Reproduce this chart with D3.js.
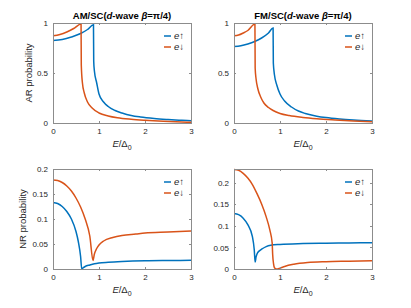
<!DOCTYPE html>
<html>
<head>
<meta charset="utf-8">
<script src="https://cdn.jsdelivr.net/npm/d3@7"></script>
<style>
  body { margin: 0; background: #fff; }
  svg { display: block; font-family: "Liberation Sans", Arial, sans-serif; }
</style>
</head>
<body>
<div id="stage"></div>
<script>

// values, E/Delta0 vs probability
var am_ar_up_E = [0, 0.2, 0.4, 0.6, 0.75, 0.88, 0.885, 0.9, 0.95, 1.0, 1.1, 1.2, 1.35, 1.5, 1.7, 1.9, 2.2, 2.5, 2.8, 3.0];
var am_ar_up   = [0.825, 0.835, 0.86, 0.895, 0.935, 0.983, 0.62, 0.52, 0.40, 0.29, 0.21, 0.165, 0.125, 0.10, 0.075, 0.06, 0.045, 0.035, 0.027, 0.022];
var am_ar_dn_E = [0, 0.15, 0.3, 0.45, 0.61, 0.615, 0.64, 0.68, 0.75, 0.85, 1.0, 1.2, 1.4, 1.7, 2.0, 2.4, 2.8, 3.0];
var am_ar_dn   = [0.872, 0.885, 0.91, 0.945, 0.99, 0.58, 0.40, 0.30, 0.21, 0.15, 0.10, 0.07, 0.052, 0.037, 0.027, 0.017, 0.01, 0.007];

var fm_ar_up_E = [0, 0.15, 0.3, 0.45, 0.6, 0.75, 0.85, 0.855, 0.88, 0.93, 1.0, 1.1, 1.25, 1.4, 1.55, 1.8, 2.0, 2.3, 2.6, 3.0];
var fm_ar_up   = [0.765, 0.772, 0.79, 0.815, 0.85, 0.9, 0.95, 0.6, 0.48, 0.38, 0.29, 0.22, 0.16, 0.12, 0.095, 0.068, 0.054, 0.04, 0.03, 0.02];
var fm_ar_dn_E = [0, 0.1, 0.2, 0.3, 0.455, 0.46, 0.48, 0.52, 0.58, 0.65, 0.75, 0.85, 1.0, 1.2, 1.5, 1.8, 2.2, 2.6, 3.0];
var fm_ar_dn   = [0.872, 0.88, 0.9, 0.925, 0.99, 0.55, 0.44, 0.34, 0.26, 0.2, 0.155, 0.125, 0.095, 0.074, 0.055, 0.042, 0.03, 0.02, 0.013];

var am_nr_up_E = [0, 0.1, 0.2, 0.3, 0.4, 0.5, 0.55, 0.6, 0.625, 0.65, 0.7, 0.8, 0.9, 1.0, 1.2, 1.5, 2.0, 2.5, 3.0];
var am_nr_up   = [0.133, 0.131, 0.125, 0.115, 0.1, 0.075, 0.055, 0.025, 0.0, 0.002, 0.005, 0.008, 0.0105, 0.012, 0.0135, 0.015, 0.0165, 0.017, 0.0173];
var am_nr_dn_E = [0, 0.1, 0.2, 0.3, 0.4, 0.5, 0.6, 0.7, 0.8, 0.87, 0.9, 0.95, 1.0, 1.1, 1.3, 1.5, 1.8, 2.0, 2.5, 3.0];
var am_nr_dn   = [0.178, 0.177, 0.173, 0.166, 0.156, 0.142, 0.124, 0.1, 0.066, 0.017, 0.03, 0.041, 0.048, 0.056, 0.063, 0.067, 0.07, 0.072, 0.074, 0.076];

var fm_nr_up_E = [0, 0.1, 0.2, 0.3, 0.4, 0.44, 0.46, 0.48, 0.5, 0.55, 0.6, 0.7, 0.8, 1.0, 1.5, 2.0, 2.5, 3.0];
var fm_nr_up   = [0.129, 0.126, 0.118, 0.103, 0.075, 0.045, 0.016, 0.028, 0.035, 0.042, 0.046, 0.052, 0.055, 0.057, 0.059, 0.06, 0.0605, 0.061];
var fm_nr_dn_E = [0, 0.1, 0.2, 0.3, 0.4, 0.5, 0.6, 0.7, 0.78, 0.83, 0.84, 0.86, 0.88, 0.92, 1.0, 1.1, 1.3, 1.6, 2.0, 2.5, 3.0];
var fm_nr_dn   = [0.231, 0.229, 0.222, 0.211, 0.196, 0.175, 0.151, 0.121, 0.09, 0.06, 0.035, 0.012, 0.003, 0.0, 0.002, 0.006, 0.011, 0.015, 0.017, 0.018, 0.019];

var xTicks = [0, 1, 2, 3];
var arTicks = [0, 0.5, 1];
var nrTicks = [0, 0.05, 0.1, 0.15, 0.2];

var blue = "#0072BD", orange = "#D95319";

var W = 411, H = 308;
var svg = d3.select("#stage").append("svg").attr("width", W).attr("height", H);
var fmt = d3.format("~g");

function zip(xs, ys){ return xs.map(function(x, i){ return [x, ys[i]]; }); }

var panels = [
  {x0: 53, x1: 191, y0: 23, y1: 123, ymax: 1, ticks: arTicks, title: "AM/SC", ylab: "AR probability", labx: 32,
   up: zip(am_ar_up_E, am_ar_up), dn: zip(am_ar_dn_E, am_ar_dn)},
  {x0: 234, x1: 372, y0: 23, y1: 123, ymax: 1, ticks: arTicks, title: "FM/SC", ylab: null,
   up: zip(fm_ar_up_E, fm_ar_up), dn: zip(fm_ar_dn_E, fm_ar_dn)},
  {x0: 53, x1: 191, y0: 169, y1: 269, ymax: 0.2, ticks: nrTicks, title: null, ylab: "NR probability", labx: 26,
   up: zip(am_nr_up_E, am_nr_up), dn: zip(am_nr_dn_E, am_nr_dn)},
  {x0: 234, x1: 372, y0: 169, y1: 269, ymax: 0.232, ticks: nrTicks, title: null, ylab: null,
   up: zip(fm_nr_up_E, fm_nr_up), dn: zip(fm_nr_dn_E, fm_nr_dn)}
];

panels.forEach(function(p){
  var x = d3.scaleLinear().domain([0, 3]).range([p.x0, p.x1]);
  var y = d3.scaleLinear().domain([0, p.ymax]).range([p.y1, p.y0]);
  var g = svg.append("g");

  var line = d3.line().x(function(d){ return x(d[0]); }).y(function(d){ return y(d[1]); }).curve(d3.curveMonotoneX);

  g.append("path").datum(p.up).attr("d", line).attr("fill", "none").attr("stroke", blue).attr("stroke-width", 1.5);
  g.append("path").datum(p.dn).attr("d", line).attr("fill", "none").attr("stroke", orange).attr("stroke-width", 1.5);

  // axes, MATLAB-style inward ticks with box
  var ax = d3.axisBottom(x).tickValues(xTicks).tickFormat(fmt).tickSizeInner(-2).tickSizeOuter(0).tickPadding(5);
  var ay = d3.axisLeft(y).tickValues(p.ticks).tickFormat(fmt).tickSizeInner(-2).tickSizeOuter(0).tickPadding(5);
  var axT = d3.axisTop(x).tickValues(xTicks).tickSizeInner(-2).tickSizeOuter(0).tickFormat("");
  var ayR = d3.axisRight(y).tickValues(p.ticks).tickSizeInner(-2).tickSizeOuter(0).tickFormat("");

  [ [ax, "translate(0," + p.y1 + ")"], [ay, "translate(" + p.x0 + ",0)"],
    [axT, "translate(0," + p.y0 + ")"], [ayR, "translate(" + p.x1 + ",0)"] ].forEach(function(a){
    var ga = g.append("g").attr("transform", a[1]).call(a[0]);
    ga.selectAll("path, line").attr("stroke", "#8c8c8c").attr("shape-rendering", "crispEdges");
    ga.selectAll("text").attr("fill", "#262626").style("font-size", "8px").style("font-family", "Liberation Sans, Arial, sans-serif");
  });

  // x label E/Δ0
  var xl = g.append("text").attr("x", (p.x0 + p.x1) / 2).attr("y", p.y1 + 24)
    .attr("text-anchor", "middle").attr("fill", "#262626").style("font-size", "9.5px");
  xl.append("tspan").style("font-style", "italic").text("E");
  xl.append("tspan").text("/Δ");
  xl.append("tspan").attr("dy", 3).style("font-size", "7px").text("0");

  if (p.ylab) {
    g.append("text").attr("transform", "translate(" + p.labx + "," + ((p.y0 + p.y1) / 2) + ") rotate(-90)")
      .attr("text-anchor", "middle").attr("fill", "#262626").style("font-size", "9.5px").text(p.ylab);
  }

  if (p.title) {
    var t = g.append("text").attr("x", (p.x0 + p.x1) / 2).attr("y", p.y0 - 4)
      .attr("text-anchor", "middle").attr("fill", "#000").style("font-size", "9.5px").style("font-weight", "bold");
    t.append("tspan").text(p.title + "(");
    t.append("tspan").style("font-style", "italic").text("d");
    t.append("tspan").text("-wave ");
    t.append("tspan").style("font-style", "italic").text("β");
    t.append("tspan").text("=π/4)");
  }

  // legend
  var lx = p.x1 - 27, ly = p.y0 + 16;
  [[blue, "↑"], [orange, "↓"]].forEach(function(it, i){
    var yy = ly + i * 11;
    g.append("line").attr("x1", lx).attr("x2", lx + 7).attr("y1", yy - 3).attr("y2", yy - 3)
      .attr("stroke", it[0]).attr("stroke-width", 1.5);
    var lt = g.append("text").attr("x", lx + 10).attr("y", yy).attr("fill", "#262626").style("font-size", "9.5px");
    lt.append("tspan").style("font-style", "italic").text("e");
    lt.append("tspan").text(it[1]);
  });
});

</script>
</body>
</html>
